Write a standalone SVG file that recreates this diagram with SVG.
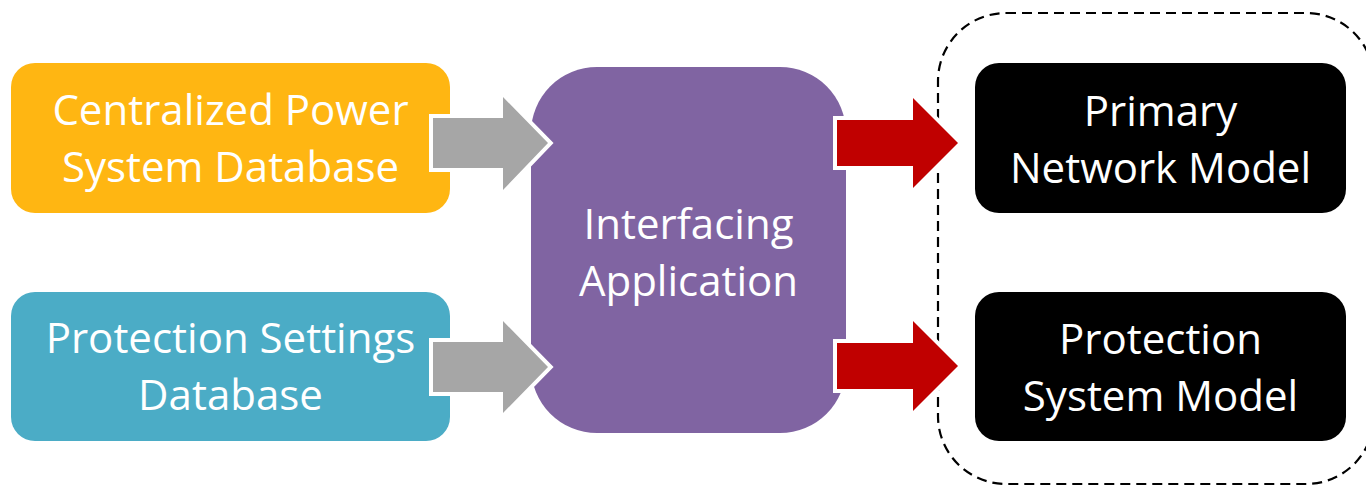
<svg xmlns="http://www.w3.org/2000/svg" width="1366" height="486" viewBox="0 0 1366 486">
  <style>
    .lbl { font-family: "Open Sans", "Noto Sans", "Liberation Sans", sans-serif; font-size: 42px; fill: #FFFFFF; text-anchor: middle; }
    .arrow { stroke: #FFFFFF; stroke-width: 8; stroke-linejoin: miter; paint-order: stroke fill; }
    .gray { fill: #A6A6A6; }
    .red { fill: #C00000; }
  </style>
  <rect width="1366" height="486" fill="#FFFFFF"/>

  <!-- dashed grouping boundary around the output models -->
  <rect id="model-group" x="938" y="13" width="436" height="471" rx="68" ry="68" fill="none" stroke="#000000" stroke-width="2.2" stroke-dasharray="10 6"/>

  <g id="node-centralized-db">
    <rect x="11" y="63" width="439" height="150" rx="24" ry="24" fill="#FFB612"/>
    <text class="lbl" x="230.5" y="125">Centralized Power</text>
    <text class="lbl" x="230.5" y="182">System Database</text>
  </g>

  <g id="node-protection-db">
    <rect x="11" y="292" width="439" height="149" rx="24" ry="24" fill="#4BACC6"/>
    <text class="lbl" x="230.5" y="353">Protection Settings</text>
    <text class="lbl" x="230.5" y="410">Database</text>
  </g>

  <g id="node-interfacing">
    <rect x="531" y="67" width="315" height="366" rx="66" ry="66" fill="#8064A2"/>
    <text class="lbl" x="688.5" y="239">Interfacing</text>
    <text class="lbl" x="688.5" y="296">Application</text>
  </g>

  <g id="node-primary-model">
    <rect x="975" y="63" width="371" height="150" rx="24" ry="24" fill="#000000"/>
    <text class="lbl" x="1160.5" y="126">Primary</text>
    <text class="lbl" x="1160.5" y="183">Network Model</text>
  </g>

  <g id="node-protection-model">
    <rect x="975" y="292" width="371" height="149" rx="24" ry="24" fill="#000000"/>
    <text class="lbl" x="1160.5" y="354">Protection</text>
    <text class="lbl" x="1160.5" y="411">System Model</text>
  </g>

  <g id="connectors">
    <polygon class="arrow gray" points="433,118 503,118 503,97 548,143 503,190 503,168 433,168"/>
    <polygon class="arrow gray" points="433,342 503,342 503,321 548,367 503,413 503,392 433,392"/>
    <polygon class="arrow red" points="837,120 913,120 913,98 958,143 913,188 913,166 837,166"/>
    <polygon class="arrow red" points="837,343 913,343 913,321 958,366 913,411 913,389 837,389"/>
  </g>
</svg>
